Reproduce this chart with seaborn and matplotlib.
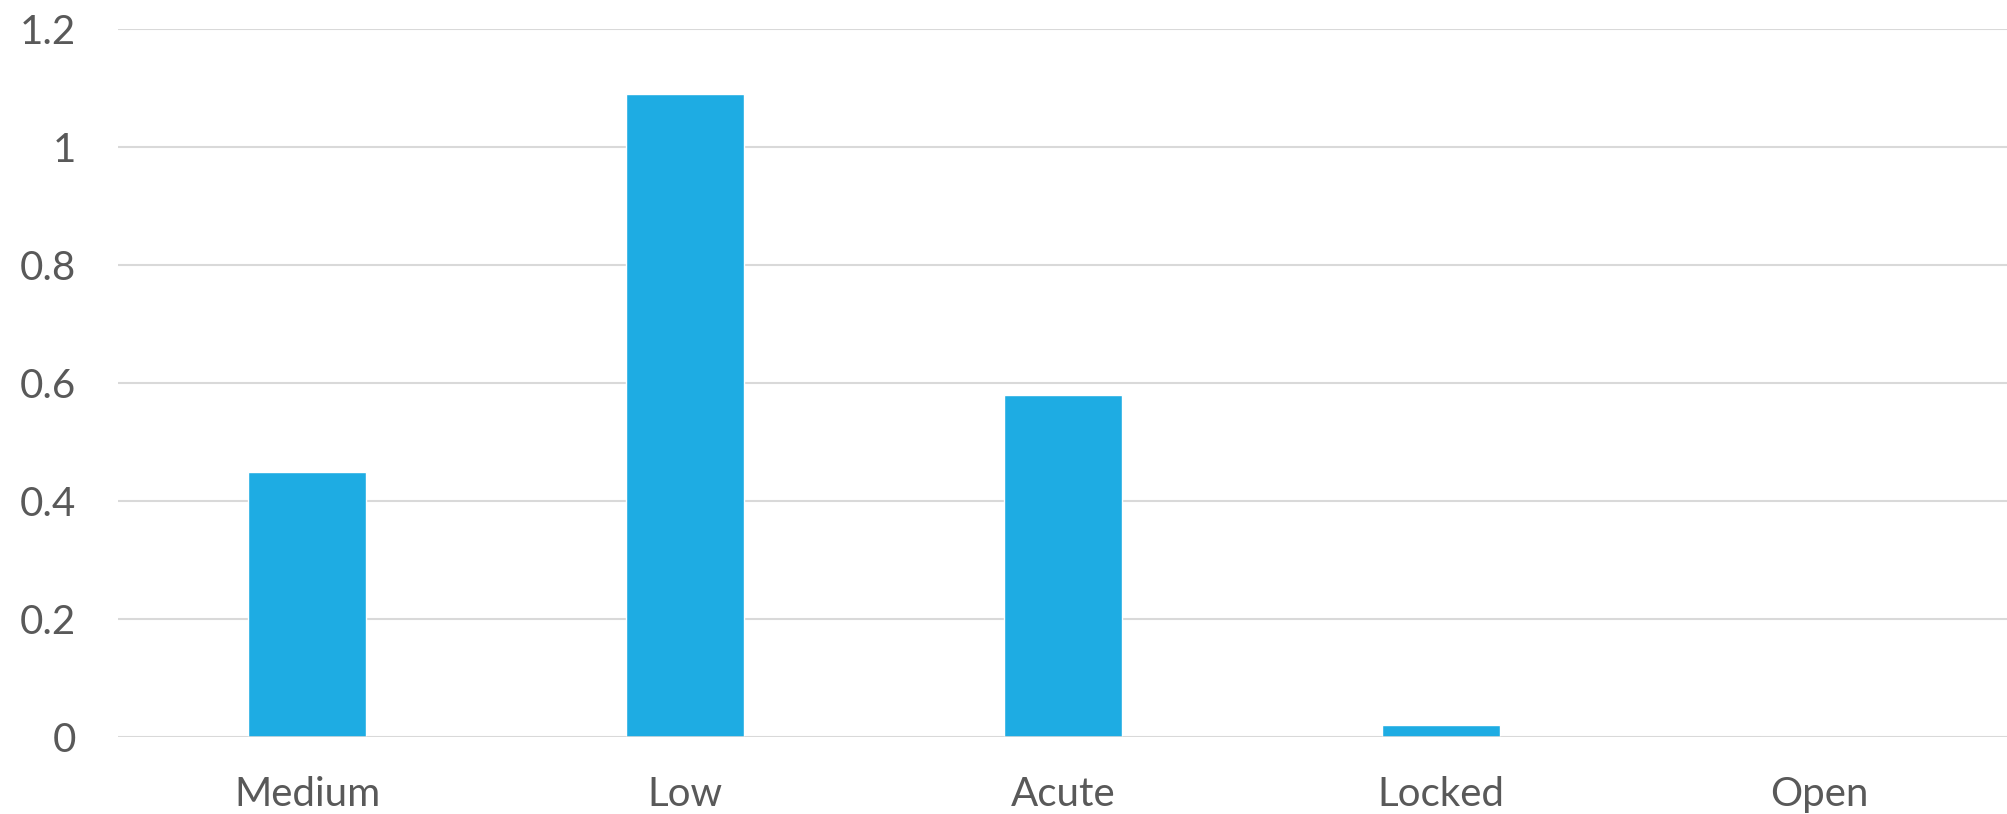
import matplotlib
matplotlib.use("Agg")
import matplotlib.pyplot as plt
import seaborn as sns
import pandas as pd

categories = ["Medium", "Low", "Acute", "Locked", "Open"]
values = [0.45, 1.09, 0.58, 0.02, 0.0]
yticks = [0, 0.2, 0.4, 0.6, 0.8, 1.0, 1.2]
ytick_labels = ["0", "0.2", "0.4", "0.6", "0.8", "1", "1.2"]

sns.set_theme(style="white")
plt.rcParams["font.family"] = ["Lato", "DejaVu Sans"]

df = pd.DataFrame({"category": categories, "value": values})

fig = plt.figure(figsize=(20.08, 8.14), dpi=100)
ax = fig.add_axes([118 / 2008, 1 - 737 / 814, 1 - 118 / 2008, (737 - 29) / 814])

sns.barplot(data=df, x="category", y="value", color="#1EACE3", saturation=1,
            width=0.312, ax=ax, zorder=3)

ax.set_ylim(0, 1.2)
ax.set_xlim(-0.5, len(categories) - 0.5)
ax.set_yticks(yticks)
ax.set_yticklabels(ytick_labels)
ax.grid(axis="y", color="#d9d9d9", linewidth=1.5, zorder=0)
ax.grid(axis="x", visible=False)
for s in ax.spines.values():
    s.set_visible(False)
ax.axhline(0, color="#d9d9d9", linewidth=1.8, zorder=4)
ax.set_xlabel("")
ax.set_ylabel("")
ax.tick_params(axis="y", length=0, pad=30, labelsize=29, labelcolor="#595959")
ax.tick_params(axis="x", length=0, pad=28, labelsize=29, labelcolor="#595959")

fig.savefig("out.png", dpi=100)
